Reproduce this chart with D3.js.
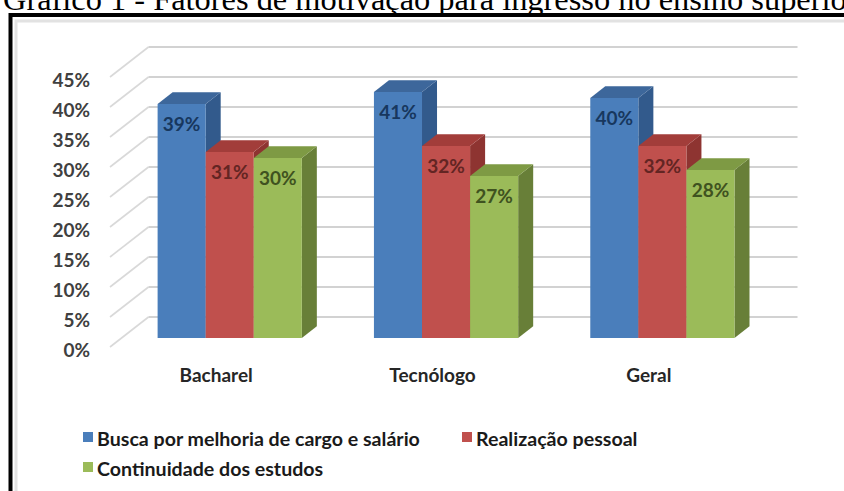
<!DOCTYPE html>
<html>
<head>
<meta charset="utf-8">
<script src="https://cdn.jsdelivr.net/npm/d3@7"></script>
<style>
  html, body { margin: 0; padding: 0; background: #ffffff; overflow: hidden; }
  svg { display: block; }
</style>
</head>
<body>
<script>
// ---------------- data ----------------
const titleText = "Gráfico 1 - Fatores de motivação para ingresso no ensino superior";
const categories = ["Bacharel", "Tecnólogo", "Geral"];
const seriesNames = ["Busca por melhoria de cargo e salário", "Realização pessoal", "Continuidade dos estudos"];
const busca = [39, 41, 40];
const realizacao = [31, 32, 32];
const continuidade = [30, 27, 28];
const tickValues = [0, 5, 10, 15, 20, 25, 30, 35, 40, 45];
const tickLabels = ["0%", "5%", "10%", "15%", "20%", "25%", "30%", "35%", "40%", "45%"];

// ---------------- styling ----------------
const W = 844, H = 491;
const FONT = "Lato, 'Open Sans', sans-serif";
const faceColors = [
  { front: "#4A7EBB", top: "#3D679B", side: "#325A8C", label: "#17375E" },
  { front: "#C0504D", top: "#A23D3A", side: "#8E3431", label: "#632523" },
  { front: "#9BBB59", top: "#7E9A44", side: "#687F38", label: "#3F5220" }
];

const seriesValues = [busca, realizacao, continuidade];
const rows = categories.map((c, i) => ({
  category: c,
  values: seriesNames.map((s, k) => ({ key: s, k, value: seriesValues[k][i] }))
}));

const svg = d3.select("body").append("svg")
  .attr("width", W).attr("height", H);

// title (cut at top as in the reference)
svg.append("text")
  .attr("x", 3).attr("y", 10)
  .attr("font-family", "'Liberation Serif', 'Times New Roman', serif")
  .attr("font-size", 32.4)
  .attr("fill", "#000")
  .text(titleText);

// ---------------- 3D geometry ----------------
const plot = { left: 110, right: 759, bottom: 347, top: 77 };
const depth = { dx: 38.5, dy: -30 };
const y = d3.scaleLinear().domain([0, 45]).range([plot.bottom, plot.top]);
const x0 = d3.scaleBand().domain(categories).range([plot.left, plot.right])
  .paddingInner(1 / 3).paddingOuter(1 / 6);
const x1 = d3.scaleBand().domain(seriesNames).range([0, x0.bandwidth()]);
const zFront = 0.3, zBack = 0.69;

// gridlines: back wall + side wall diagonals
const grid = svg.append("g");
tickValues.forEach(t => {
  grid.append("line")
    .attr("x1", plot.left).attr("y1", y(t))
    .attr("x2", plot.left + depth.dx).attr("y2", y(t) + depth.dy)
    .attr("stroke", "#D9D9D9").attr("stroke-width", 1.6);
  grid.append("line")
    .attr("x1", plot.left + depth.dx).attr("y1", y(t) + depth.dy)
    .attr("x2", plot.right + depth.dx).attr("y2", y(t) + depth.dy)
    .attr("stroke", "#D2D2D2").attr("stroke-width", 2);
});

// y axis labels
const yAxis = d3.axisLeft(y).tickValues(tickValues)
  .tickFormat((d, i) => tickLabels[i]).tickSize(0).tickPadding(3);
const gy = svg.append("g").attr("transform", "translate(93,3.5)").call(yAxis);
gy.select(".domain").remove();
gy.selectAll("text")
  .attr("font-family", FONT).attr("font-size", 19).attr("font-weight", "bold")
  .attr("fill", "#404040");

// bars
const fdx = depth.dx * zFront, fdy = depth.dy * zFront;
const bdx = depth.dx * (zBack - zFront), bdy = depth.dy * (zBack - zFront);
const bars = svg.append("g");
rows.forEach(r => {
  r.values.forEach(v => {
    const xl = x0(r.category) + x1(v.key) + fdx;
    const xr = xl + x1.bandwidth();
    const yt = y(v.value) + fdy;
    const yb = y(0) + fdy;
    const c = faceColors[v.k];
    const g = bars.append("g");
    // side
    g.append("path")
      .attr("d", `M${xr},${yt}L${xr + bdx},${yt + bdy}L${xr + bdx},${yb + bdy}L${xr},${yb}Z`)
      .attr("fill", c.side);
    // top
    g.append("path")
      .attr("d", `M${xl},${yt}L${xr},${yt}L${xr + bdx},${yt + bdy}L${xl + bdx},${yt + bdy}Z`)
      .attr("fill", c.top);
    // front
    g.append("rect")
      .attr("x", xl).attr("y", yt)
      .attr("width", xr - xl).attr("height", yb - yt)
      .attr("fill", c.front);
    // label
    g.append("text")
      .attr("x", (xl + xr) / 2).attr("y", yt + 27)
      .attr("text-anchor", "middle")
      .attr("font-family", FONT).attr("font-size", 19).attr("font-weight", "bold")
      .attr("fill", c.label)
      .text(v.value + "%");
  });
});

// category axis labels
const xAxis = d3.axisBottom(x0).tickSize(0).tickPadding(3.5);
const gx = svg.append("g").attr("transform", "translate(-2,365)").call(xAxis);
gx.select(".domain").remove();
gx.selectAll("text")
  .attr("font-family", FONT).attr("font-size", 19).attr("font-weight", "bold")
  .attr("fill", "#262626");

// legend
const legendPos = [{ x: 83, y: 432 }, { x: 462, y: 432 }, { x: 83, y: 462 }];
const legend = svg.append("g");
seriesNames.forEach((s, k) => {
  const p = legendPos[k];
  legend.append("rect")
    .attr("x", p.x).attr("y", p.y).attr("width", 10).attr("height", 10)
    .attr("fill", faceColors[k].front);
  legend.append("text")
    .attr("x", p.x + 14).attr("y", p.y + 14)
    .attr("font-family", FONT).attr("font-size", 19.6).attr("font-weight", "bold")
    .attr("fill", "#1A1A1A")
    .text(s);
});

// frame (black border with soft inner shadow)
svg.append("path")
  .attr("d", `M16,${H}L16,21L${W},21`)
  .attr("fill", "none").attr("stroke", "#E2E2E2").attr("stroke-width", 3);
svg.append("path")
  .attr("d", `M10.5,${H}L10.5,15L${W},15`)
  .attr("fill", "none").attr("stroke", "#000").attr("stroke-width", 4);
</script>
</body>
</html>
